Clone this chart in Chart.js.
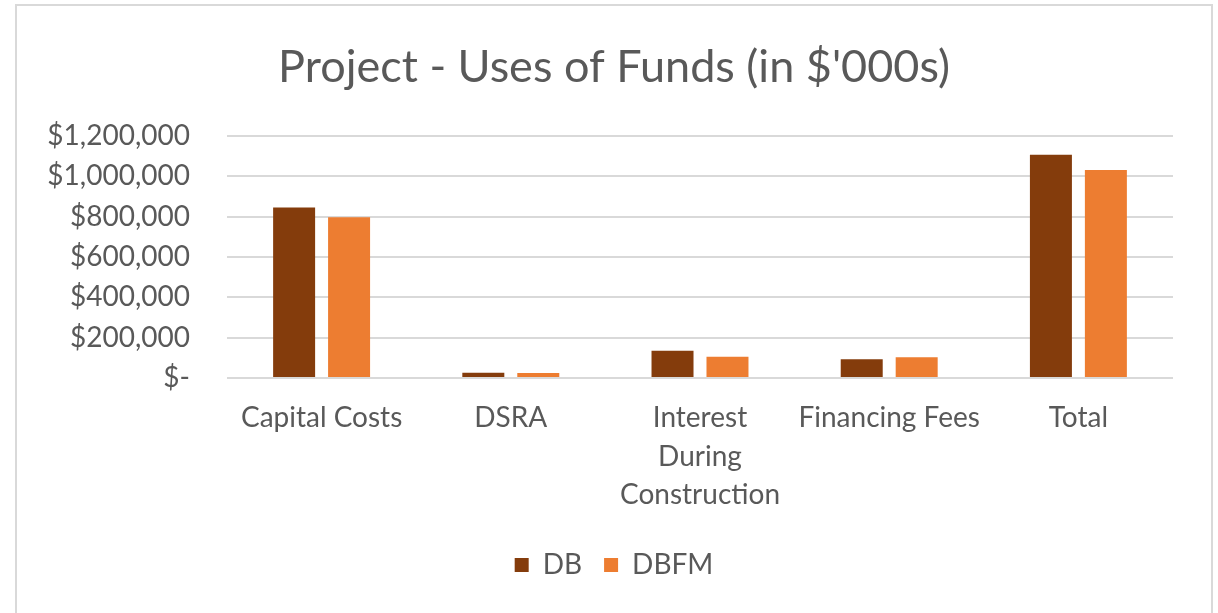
<!DOCTYPE html>
<html>
<head>
<meta charset="utf-8">
<script src="https://cdn.jsdelivr.net/npm/chart.js@4"></script>
<style>
  body { margin: 0; background: #fff; }
  #frame { position: absolute; left: 15px; top: 4px; width: 1194px; height: 640px; border: 2px solid #d9d9d9; }
  #wrap { position: absolute; left: 0; top: 0; width: 1218px; height: 613px; }
</style>
</head>
<body>
<div id="frame"></div>
<div id="wrap"><canvas id="chart" width="1218" height="613"></canvas></div>
<script>
const categories = ['Capital Costs', 'DSRA', ['Interest', 'During', 'Construction'], 'Financing Fees', 'Total']
const dbValues = [846000, 26000, 135000, 93000, 1107000]
const dbfmValues = [797000, 25000, 105000, 103000, 1032000]
const yTicks = [0, 200000, 400000, 600000, 800000, 1000000, 1200000]

const grey = '#595959'
const font = 'Lato, "Open Sans", sans-serif'

function money(v) {
    if (v === 0) return '$-'
    return '$' + v.toLocaleString('en-US')
}

// title and legend sit centred on the whole frame, not on the chart box
const centreShift = {
    id: 'centreShift',
    afterLayout(chart) {
        for (const box of [chart.titleBlock, chart.legend]) {
            box.left += 27.5
            box.right += 27.5
        }
    }
}

const ctx = document.getElementById('chart').getContext('2d')

const chart = new Chart(ctx, {
    type: 'bar',
    data: {
        labels: categories,
        datasets: [
            { label: 'DB', data: dbValues, backgroundColor: '#843c0c' },
            { label: 'DBFM', data: dbfmValues, backgroundColor: '#ed7d31' }
        ]
    },
    plugins: [centreShift],
    options: {
        responsive: false,
        animation: false,
        categoryPercentage: 0.581,
        barPercentage: 0.764,
        layout: { padding: { top: 40, right: 45, bottom: 24, left: 0 } },
        plugins: {
            title: {
                display: true,
                text: "Project - Uses of Funds (in $'000s)",
                color: grey,
                font: { family: font, size: 45, weight: 'normal', lineHeight: 1.2 },
                padding: { top: 0, bottom: 42 }
            },
            legend: {
                position: 'bottom',
                labels: {
                    color: grey,
                    boxWidth: 14,
                    boxHeight: 14,
                    padding: 22,
                    font: { family: font, size: 28 }
                }
            },
            tooltip: { enabled: false }
        },
        scales: {
            x: {
                grid: { display: false },
                border: { display: false },
                ticks: {
                    color: grey,
                    maxRotation: 0,
                    autoSkip: false,
                    padding: 13,
                    font: { family: font, size: 28, lineHeight: 1.37 }
                },
                afterFit: (scale) => { scale.height = 151 }
            },
            y: {
                min: 0,
                max: 1200000,
                afterBuildTicks: (scale) => { scale.ticks = yTicks.map(v => ({ value: v })) },
                grid: { color: '#d9d9d9', lineWidth: 2, drawTicks: false },
                border: { display: false },
                ticks: {
                    color: grey,
                    padding: 37,
                    font: { family: font, size: 28 },
                    callback: (v) => money(v)
                },
                afterFit: (scale) => { scale.width = 227 }
            }
        }
    }
})
</script>
</body>
</html>
